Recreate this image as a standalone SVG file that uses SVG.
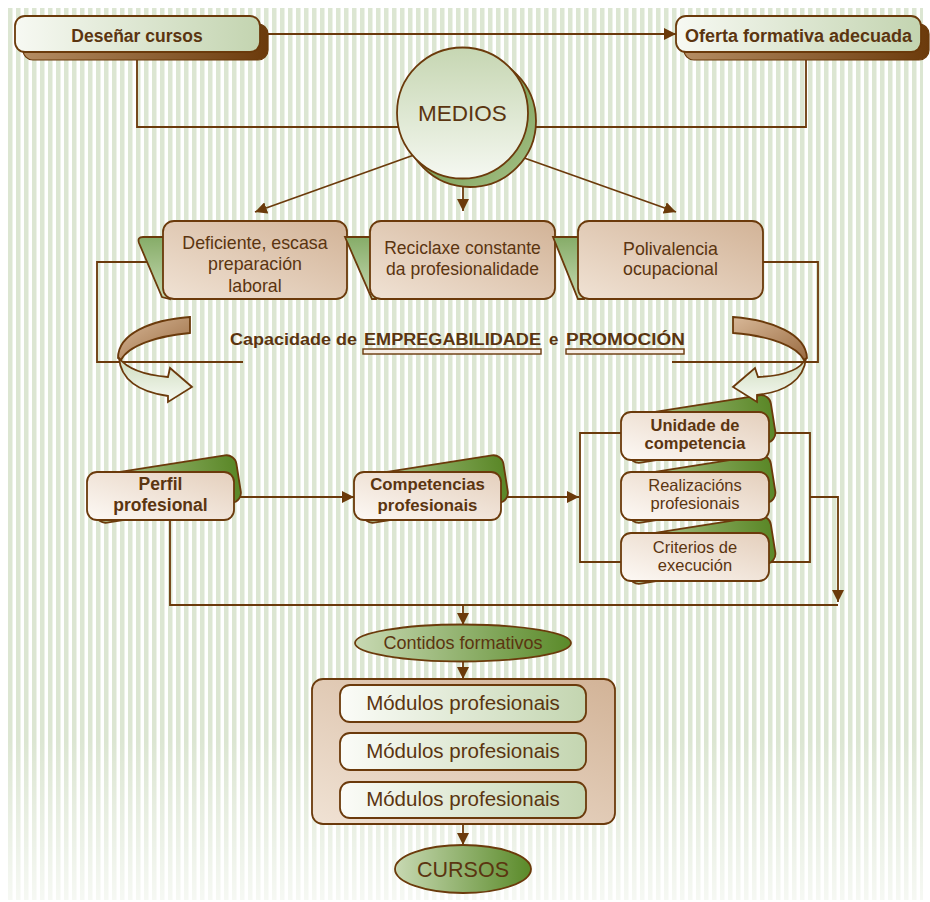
<svg xmlns="http://www.w3.org/2000/svg" width="930" height="902" viewBox="0 0 930 902">
<defs>
<style>
.ln{fill:none;stroke:#6b3a0b;stroke-width:1.8}
.ar{marker-end:url(#ah)}
.bd{stroke:#6b3a0b;stroke-width:1.8}
.t{font-family:"Liberation Sans",Arial,sans-serif;fill:#5b3510;text-anchor:middle}
.s{text-anchor:start}
.b{font-weight:bold}
</style>
<pattern id="stripes" x="0" y="0" width="8" height="8" patternUnits="userSpaceOnUse">
<rect x="0" y="0" width="4.5" height="8" fill="#dce6d2"/>
</pattern>
<linearGradient id="fade" x1="0" y1="0" x2="0" y2="1">
<stop offset="0" stop-color="#fff" stop-opacity="0"/>
<stop offset="1" stop-color="#fff" stop-opacity="0.75"/>
</linearGradient>
<linearGradient id="gTop" x1="0" y1="0" x2="1" y2="0">
<stop offset="0" stop-color="#f7f9f3"/>
<stop offset="1" stop-color="#c3d4b0"/>
</linearGradient>
<linearGradient id="gShadow" x1="0" y1="0" x2="1" y2="0">
<stop offset="0" stop-color="#b58d63"/>
<stop offset="1" stop-color="#6b3a0b"/>
</linearGradient>
<linearGradient id="gCircle" x1="0" y1="0" x2="0" y2="1">
<stop offset="0" stop-color="#c6d6b2"/>
<stop offset="1" stop-color="#f5f8f1"/>
</linearGradient>
<linearGradient id="gCircleSh" x1="0" y1="0" x2="1" y2="1">
<stop offset="0" stop-color="#4f7d22"/>
<stop offset="1" stop-color="#a9c48c"/>
</linearGradient>
<linearGradient id="gTan" x1="0" y1="1" x2="1" y2="0">
<stop offset="0" stop-color="#f0e2d4"/>
<stop offset="1" stop-color="#d2b397"/>
</linearGradient>
<linearGradient id="gTab" x1="0" y1="0" x2="0" y2="1">
<stop offset="0" stop-color="#86ac68"/>
<stop offset="1" stop-color="#c6dab2"/>
</linearGradient>
<linearGradient id="gLight" x1="0" y1="1" x2="1" y2="0">
<stop offset="0" stop-color="#fdf9f5"/>
<stop offset="1" stop-color="#e4cfbc"/>
</linearGradient>
<linearGradient id="gCard" x1="0" y1="0" x2="1" y2="0">
<stop offset="0" stop-color="#c2d5ab"/>
<stop offset="0.6" stop-color="#7ea252"/>
<stop offset="1" stop-color="#5a8727"/>
</linearGradient>
<linearGradient id="gEll" x1="0" y1="0" x2="1" y2="0">
<stop offset="0" stop-color="#c8d9b3"/>
<stop offset="1" stop-color="#5a8a29"/>
</linearGradient>
<linearGradient id="gMod" x1="0" y1="0" x2="1" y2="0">
<stop offset="0" stop-color="#fbfcf8"/>
<stop offset="1" stop-color="#c3d5b0"/>
</linearGradient>
<linearGradient id="gBrownRib" x1="0" y1="0" x2="1" y2="1">
<stop offset="0" stop-color="#d8b898"/>
<stop offset="1" stop-color="#9a6c42"/>
</linearGradient>
<linearGradient id="gGreenRib" x1="0" y1="0" x2="0" y2="1">
<stop offset="0" stop-color="#cddcbd"/>
<stop offset="1" stop-color="#f6f9f2"/>
</linearGradient>
<marker id="ah" markerWidth="12" markerHeight="12" refX="12" refY="6" orient="auto" markerUnits="userSpaceOnUse">
<path d="M0,0 L12,6 L0,12 z" fill="#6b3a0b"/>
</marker>
</defs>

<!-- background -->
<rect x="0" y="0" width="930" height="902" fill="#ffffff"/>
<rect x="8" y="8" width="915" height="892" fill="url(#stripes)"/>
<rect x="8" y="740" width="915" height="160" fill="url(#fade)"/>

<!-- connectors -->
<g id="connectors">
<path class="ln ar" d="M268,34 H676"/>
<path class="ln" d="M137,60 V127 H405"/>
<path class="ln" d="M806,60 V127 H525"/>
<path class="ln ar" d="M414,155 L255,212"/>
<path class="ln ar" d="M463,175 V211"/>
<path class="ln ar" d="M513,154 L676,212"/>
<path class="ln" d="M150,262 H97 V362 H243"/>
<path class="ln" d="M758,262 H818 V362 H672"/>
<path class="ln ar" d="M238,497 H354"/>
<path class="ln ar" d="M506,497 H579"/>
<path class="ln" d="M621,433 H580 V562 H621"/>
<path class="ln" d="M769,433 H810 V562 H769"/>
<path class="ln ar" d="M810,497 H838 V602"/>
<path class="ln" d="M170,518 V605 H838"/>
<path class="ln ar" d="M463,605 V625"/>
<path class="ln ar" d="M463,662 V679"/>
<path class="ln ar" d="M463,824 V845"/>
</g>

<!-- top boxes -->
<g id="desenar">
<rect x="23" y="24" width="245" height="36" rx="10" fill="url(#gShadow)" stroke="#6b3a0b" stroke-width="1.2"/>
<rect x="15" y="16" width="245" height="36" rx="10" fill="url(#gTop)" class="bd"/>
<text x="137" y="42" class="t b" font-size="17.5">Deseñar cursos</text>
</g>
<g id="oferta">
<rect x="684" y="24" width="245" height="36" rx="10" fill="url(#gShadow)" stroke="#6b3a0b" stroke-width="1.2"/>
<rect x="676" y="16" width="245" height="36" rx="10" fill="url(#gTop)" class="bd"/>
<text x="798.5" y="42" class="t b" font-size="18">Oferta formativa adecuada</text>
</g>

<!-- MEDIOS -->
<g id="medios">
<circle cx="470" cy="121" r="66" fill="url(#gCircleSh)" class="bd"/>
<circle cx="462.5" cy="113" r="65.5" fill="url(#gCircle)" class="bd"/>
<text x="462.5" y="121" class="t" font-size="22.5">MEDIOS</text>
</g>

<!-- three boxes -->
<g id="deficiente">
<path d="M143,237 Q137,237 139,243 L162,297 L170,299 L170,237 Z" fill="url(#gTab)" class="bd"/>
<rect x="163" y="221" width="184" height="78" rx="11" fill="url(#gTan)" class="bd"/>
<text class="t" font-size="17.8"><tspan x="255" y="249">Deficiente, escasa</tspan><tspan x="255" y="270">preparación</tspan><tspan x="255" y="292">laboral</tspan></text>
</g>
<g id="reciclaxe">
<path d="M345,237 L372,299 L376,299 L376,237 Z" fill="url(#gTab)" class="bd"/>
<rect x="370" y="221" width="185" height="78" rx="11" fill="url(#gTan)" class="bd"/>
<text class="t" font-size="17.5"><tspan x="462.5" y="254">Reciclaxe constante</tspan><tspan x="462.5" y="275">da profesionalidade</tspan></text>
</g>
<g id="polivalencia">
<path d="M553,237 L578,299 L584,299 L584,237 Z" fill="url(#gTab)" class="bd"/>
<rect x="578" y="221" width="185" height="78" rx="11" fill="url(#gTan)" class="bd"/>
<text class="t" font-size="17.8"><tspan x="670.5" y="255">Polivalencia</tspan><tspan x="670.5" y="275">ocupacional</tspan></text>
</g>

<!-- Capacidade label -->
<g id="capacidade">
<text x="230" y="345" class="t s b" font-size="16.8" textLength="127" lengthAdjust="spacingAndGlyphs">Capacidade de</text>
<text x="364" y="345" class="t s b" font-size="16.8" textLength="177" lengthAdjust="spacingAndGlyphs">EMPREGABILIDADE</text>
<text x="549" y="345" class="t s b" font-size="16.8">e</text>
<text x="566" y="345" class="t s b" font-size="16.8" textLength="119" lengthAdjust="spacingAndGlyphs">PROMOCIÓN</text>
<rect x="363" y="349" width="178" height="5" fill="#f6eee6" stroke="#6b3a0b" stroke-width="1.4"/>
<rect x="566" y="349" width="118" height="5" fill="#f6eee6" stroke="#6b3a0b" stroke-width="1.4"/>
</g>

<!-- curved arrows -->
<g id="curve-left">
<path d="M190,317 C150,320 118,334 118,358 L121,360 C128,346 156,336 190,333 Z" fill="url(#gBrownRib)" class="bd" stroke-width="1.5"/>
<path d="M119,358 C128,370 145,375 168,377 L170,368 L192,387 L168,402 L168,396 C140,392 121,380 119,358 Z" fill="url(#gGreenRib)" class="bd" stroke-width="1.5"/>
</g>

<!-- Perfil & Competencias -->
<g id="perfil">
<rect x="92.5" y="465" width="147" height="48" rx="10" fill="url(#gCard)" class="bd" transform="rotate(-9 166 489)"/>
<rect x="87" y="472" width="147" height="48" rx="10" fill="url(#gLight)" class="bd"/>
<text class="t b" font-size="17.5"><tspan x="160.5" y="490">Perfil</tspan><tspan x="160.5" y="511">profesional</tspan></text>
</g>
<g id="competencias">
<rect x="359.5" y="465" width="147" height="48" rx="10" fill="url(#gCard)" class="bd" transform="rotate(-9 433 489)"/>
<rect x="354" y="472" width="147" height="48" rx="10" fill="url(#gLight)" class="bd"/>
<text class="t b" font-size="16.8"><tspan x="427.5" y="490">Competencias</tspan><tspan x="427.5" y="511">profesionais</tspan></text>
</g>

<!-- stack -->
<g id="stack-cards">
<rect x="626" y="405" width="148" height="48" rx="10" fill="url(#gCard)" class="bd" transform="rotate(-9 700 429)"/>
<rect x="626" y="465" width="148" height="48" rx="10" fill="url(#gCard)" class="bd" transform="rotate(-9 700 489)"/>
<rect x="626" y="526" width="148" height="48" rx="10" fill="url(#gCard)" class="bd" transform="rotate(-9 700 550)"/>
</g>
<g id="unidade">
<rect x="621" y="412" width="148" height="48" rx="10" fill="url(#gLight)" class="bd"/>
<text class="t b" font-size="16.5"><tspan x="695" y="431">Unidade de</tspan><tspan x="695" y="449">competencia</tspan></text>
</g>
<g id="realizacions">
<rect x="621" y="472" width="148" height="48" rx="10" fill="url(#gLight)" class="bd"/>
<text class="t" font-size="16.5"><tspan x="695" y="491">Realizacións</tspan><tspan x="695" y="509">profesionais</tspan></text>
</g>
<g id="criterios">
<rect x="621" y="533" width="148" height="48" rx="10" fill="url(#gLight)" class="bd"/>
<text class="t" font-size="16.5"><tspan x="695" y="553">Criterios de</tspan><tspan x="695" y="571">execución</tspan></text>
</g>

<g id="curve-right">
<path d="M733,317 C772,320 806,334 807,358 L804,360 C797,346 770,336 733,333 Z" fill="url(#gBrownRib)" class="bd" stroke-width="1.5"/>
<path d="M806,358 C800,372 780,376 758,377 L755,368 L733,387 L757,402 L757,395 C785,392 804,380 806,358 Z" fill="url(#gGreenRib)" class="bd" stroke-width="1.5"/>
</g>

<!-- Contidos -->
<g id="contidos">
<ellipse cx="463" cy="643" rx="108" ry="18.5" fill="url(#gEll)" class="bd"/>
<text x="463" y="649" class="t" font-size="18">Contidos formativos</text>
</g>

<!-- modules -->
<g id="modulos">
<rect x="312" y="679" width="303" height="145" rx="11" fill="url(#gTan)" class="bd"/>
<rect x="340" y="685" width="246" height="37" rx="10" fill="url(#gMod)" class="bd"/>
<text x="463" y="710" class="t" font-size="20.5">Módulos profesionais</text>
<rect x="340" y="733" width="246" height="37" rx="10" fill="url(#gMod)" class="bd"/>
<text x="463" y="758" class="t" font-size="20.5">Módulos profesionais</text>
<rect x="340" y="782" width="246" height="36" rx="10" fill="url(#gMod)" class="bd"/>
<text x="463" y="806" class="t" font-size="20.5">Módulos profesionais</text>
</g>

<!-- CURSOS -->
<g id="cursos">
<ellipse cx="463" cy="869" rx="68" ry="24" fill="url(#gEll)" class="bd"/>
<text x="463" y="877" class="t" font-size="21.5">CURSOS</text>
</g>
</svg>
